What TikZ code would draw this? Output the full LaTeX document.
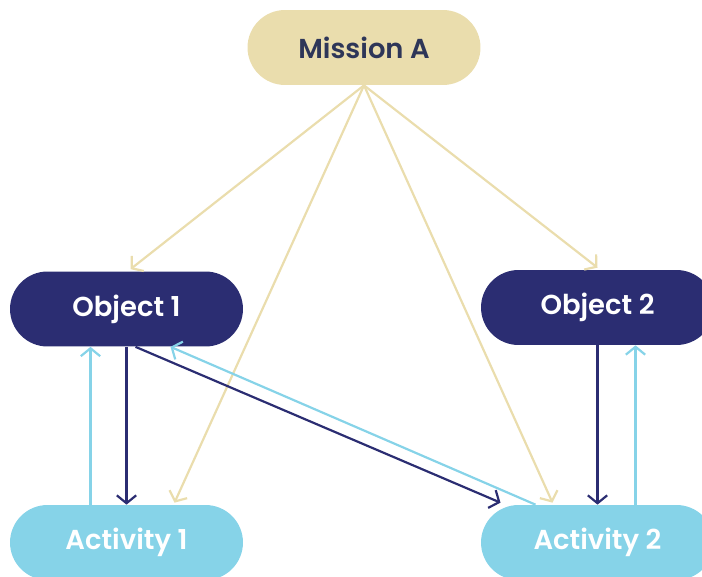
\documentclass[tikz,border=0pt]{standalone}
\usepackage{fontspec}
\setmainfont{Poppins}[BoldFont={Poppins SemiBold}]
\usetikzlibrary{arrows.meta,calc}

\definecolor{sand}{HTML}{EADDAD}
\definecolor{navy}{HTML}{2B2D72}
\definecolor{sky}{HTML}{86D3E8}
\definecolor{ink}{HTML}{2E3658}

\tikzset{
  pill/.style={rectangle, rounded corners=0.75cm, minimum width=4.66cm, minimum height=1.5cm, font=\fontsize{15.6}{18}\selectfont\bfseries},
  link/.style={line width=1.25pt, -{Straight Barb[length=4.5pt,width=11pt]}}
}

\begin{document}
\begin{tikzpicture}[x=0.02cm,y=-0.02cm]
\useasboundingbox (0,0) rectangle (702,577);

\node[pill, fill=sand, text=ink] (mission) at (364,47.5) {Mission A};
\node[pill, fill=navy, text=white] (obj1) at (126.5,309) {Object 1};
\node[pill, fill=navy, text=white] (obj2) at (597.5,307.5) {Object 2};
\node[pill, fill=sky, text=white] (act1) at (126.5,542.5) {Activity 1};
\node[pill, fill=sky, text=white] (act2) at (597.5,542.5) {Activity 2};

% mission fans out to everything
\draw[link, sand] (mission.south) -- ($(obj1.north)+(4,-2)$);
\draw[link, sand] (mission.south) -- ($(act1.north)+(48,-2)$);
\draw[link, sand] (mission.south) -- ($(act2.north)+(-45,-2)$);
\draw[link, sand] (mission.south) -- ($(obj2.north)+(0,-2)$);

% object 1 <-> activity 1
\draw[link, navy] (obj1.south) -- (act1.north);
\draw[link, sky] ($(act1.north)+(-36,0)$) -- ($(obj1.south)+(-36,0)$);

% object 1 <-> activity 2
\draw[link, navy] ($(obj1.south)+(9,0)$) -- ($(act2.north)+(-97,-2)$);
\draw[link, sky] ($(act2.north)+(-62,0)$) -- ($(obj1.south)+(44,0)$);

% object 2 <-> activity 2
\draw[link, navy] (obj2.south) -- (act2.north);
\draw[link, sky] ($(act2.north)+(38,0)$) -- ($(obj2.south)+(38,0)$);
\end{tikzpicture}
\end{document}
